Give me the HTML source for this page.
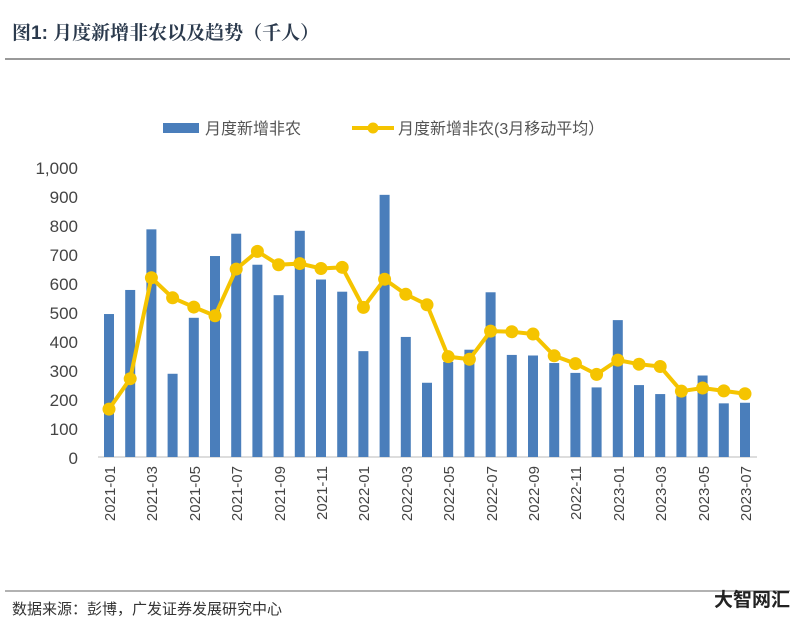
<!DOCTYPE html>
<html><head><meta charset="utf-8"><style>
body{margin:0;background:#fff;width:800px;height:626px;overflow:hidden;font-family:"Liberation Sans","Noto Sans CJK SC",sans-serif}
</style></head><body>
<svg width="800" height="626" xmlns="http://www.w3.org/2000/svg" id="s">
<text x="12" y="39" font-size="19" font-weight="bold" fill="#2b3a4d" font-family="Liberation Sans,Noto Serif CJK SC,serif">图1:  月度新增非农以及趋势（千人）</text>
<line x1="5" y1="59" x2="790" y2="59" stroke="#999" stroke-width="2"/>
<rect x="163" y="123" width="36" height="10" fill="#4a7ebb"/>
<text x="205" y="134" font-size="16" fill="#555">月度新增非农</text>
<line x1="352" y1="128" x2="394" y2="128" stroke="#f5c400" stroke-width="4"/>
<circle cx="373" cy="128" r="5.5" fill="#f5c400"/>
<text x="398" y="134" font-size="16" fill="#555">月度新增非农(3月移动平均）</text>
<g font-size="17" fill="#444" text-anchor="end">
<text x="78" y="174">1,000</text><text x="78" y="203">900</text><text x="78" y="232">800</text>
<text x="78" y="261">700</text><text x="78" y="290">600</text><text x="78" y="319">500</text>
<text x="78" y="348">400</text><text x="78" y="377">300</text><text x="78" y="406">200</text>
<text x="78" y="435">100</text><text x="78" y="464">0</text>
</g>
<line x1="98" y1="457" x2="757" y2="457" stroke="#bbb"/>
<g id="bars"></g>
<g font-size="15" fill="#444" text-anchor="end">
<text transform="translate(115,466) rotate(-90)">2021-01</text>
<text transform="translate(157,466) rotate(-90)">2021-03</text>
<text transform="translate(200,466) rotate(-90)">2021-05</text>
<text transform="translate(242,466) rotate(-90)">2021-07</text>
<text transform="translate(285,466) rotate(-90)">2021-09</text>
<text transform="translate(327,466) rotate(-90)">2021-11</text>
<text transform="translate(369,466) rotate(-90)">2022-01</text>
<text transform="translate(412,466) rotate(-90)">2022-03</text>
<text transform="translate(454,466) rotate(-90)">2022-05</text>
<text transform="translate(497,466) rotate(-90)">2022-07</text>
<text transform="translate(539,466) rotate(-90)">2022-09</text>
<text transform="translate(581,466) rotate(-90)">2022-11</text>
<text transform="translate(624,466) rotate(-90)">2023-01</text>
<text transform="translate(666,466) rotate(-90)">2023-03</text>
<text transform="translate(709,466) rotate(-90)">2023-05</text>
<text transform="translate(751,466) rotate(-90)">2023-07</text>
</g>
<line x1="5" y1="591" x2="790" y2="591" stroke="#999" stroke-width="1.5"/>
<text x="12" y="614" font-size="15" fill="#333">数据来源：彭博，广发证券发展研究中心</text>
<text x="790" y="606" font-size="19" font-weight="bold" fill="#222" text-anchor="end">大智网汇</text>
</svg>
<script>
var b=[493,576,785,287,480,693,770,663,558,780,612,570,365,904,414,256,328,370,568,352,350,324,290,240,472,248,217,217,281,185,187];
var l=[165,270,618,549,517,487,648,709,663,667,650,654,516,613,561,525,346,337,434,432,424,349,322,285,334,320,312,227,238,228,218];
var g=document.getElementById('bars'),h='',p=[];
for(var i=0;i<31;i++){var x=109+21.2*i;
h+='<rect x="'+(x-5)+'" y="'+(457-b[i]*0.29)+'" width="10" height="'+(b[i]*0.29)+'" fill="#4a7ebb"/>';
p.push(x+','+(457-l[i]*0.29));}
h+='<polyline points="'+p.join(' ')+'" fill="none" stroke="#f5c400" stroke-width="4"/>';
for(i=0;i<31;i++){var q=p[i].split(',');h+='<circle cx="'+q[0]+'" cy="'+q[1]+'" r="6.5" fill="#f5c400"/>';}
g.innerHTML=h;
</script>
</body></html>
